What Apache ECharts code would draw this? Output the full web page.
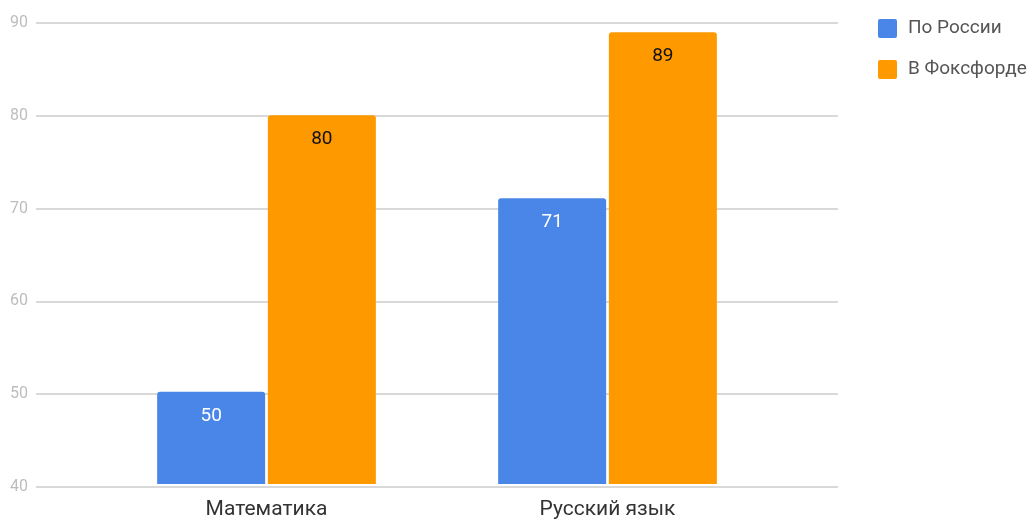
<!DOCTYPE html>
<html><head><meta charset="utf-8">
<script src="https://cdn.jsdelivr.net/npm/echarts@6/dist/echarts.min.js"></script>
<style>html,body{margin:0;padding:0;background:#fff}#c{width:1031px;height:520px}</style>
</head><body><div id="c"></div>
<script>
const categories = ['Математика', 'Русский язык'];
const seriesNames = ['По России', 'В Фоксфорде'];
const russiaValues = [50, 71];
const foxfordValues = [80, 89];
const yMin = 40, yMax = 90, yStep = 10;

const chart = echarts.init(document.getElementById('c'));
chart.setOption({
  animation: false,
  textStyle: { fontFamily: 'Roboto' },
  legend: {
    orient: 'vertical', left: 873, top: 14, itemWidth: 19, itemHeight: 19, itemGap: 22,
    icon: 'path://M2,0 L17,0 Q19,0 19,2 L19,17 Q19,19 17,19 L2,19 Q0,19 0,17 L0,2 Q0,0 2,0 Z',
    textStyle: { fontFamily: 'Roboto', fontSize: 19, color: '#555', padding: [0, 0, 0, 6] },
    data: seriesNames
  },
  grid: [
    { left: 36, right: 193, top: 23, bottom: 33 },
    { left: 96, right: 253, top: 23, bottom: 33 }
  ],
  xAxis: [
    { gridIndex: 0, type: 'category', data: categories, show: false },
    { gridIndex: 1, type: 'category', data: categories,
      axisLine: { show: false }, axisTick: { show: false },
      axisLabel: { fontFamily: 'Roboto', fontSize: 21, color: '#333', margin: 15 } }
  ],
  yAxis: [
    { gridIndex: 0, type: 'value', min: yMin, max: yMax, interval: yStep,
      axisLine: { show: false }, axisTick: { show: false },
      axisLabel: { fontFamily: 'Roboto', fontSize: 16, color: '#bdbdbd', margin: 8 },
      splitLine: { lineStyle: { color: '#cccccc', width: 1.5 } } },
    { gridIndex: 1, type: 'value', min: yMin, max: yMax, interval: yStep, show: false,
      splitLine: { show: false } }
  ],
  series: [
    { name: seriesNames[0], type: 'bar', xAxisIndex: 1, yAxisIndex: 1, data: russiaValues,
      barWidth: 108, barGap: '2.5%',
      itemStyle: { color: '#4a86e8', borderRadius: [3, 3, 0, 0] },
      label: { show: true, position: 'insideTop', distance: 15, fontFamily: 'Roboto', fontSize: 19, color: '#ffffff' } },
    { name: seriesNames[1], type: 'bar', xAxisIndex: 1, yAxisIndex: 1, data: foxfordValues,
      barWidth: 108,
      itemStyle: { color: '#ff9900', borderRadius: [3, 3, 0, 0] },
      label: { show: true, position: 'insideTop', distance: 15, fontFamily: 'Roboto', fontSize: 19, color: '#111111' } }
  ]
});
</script></body></html>
